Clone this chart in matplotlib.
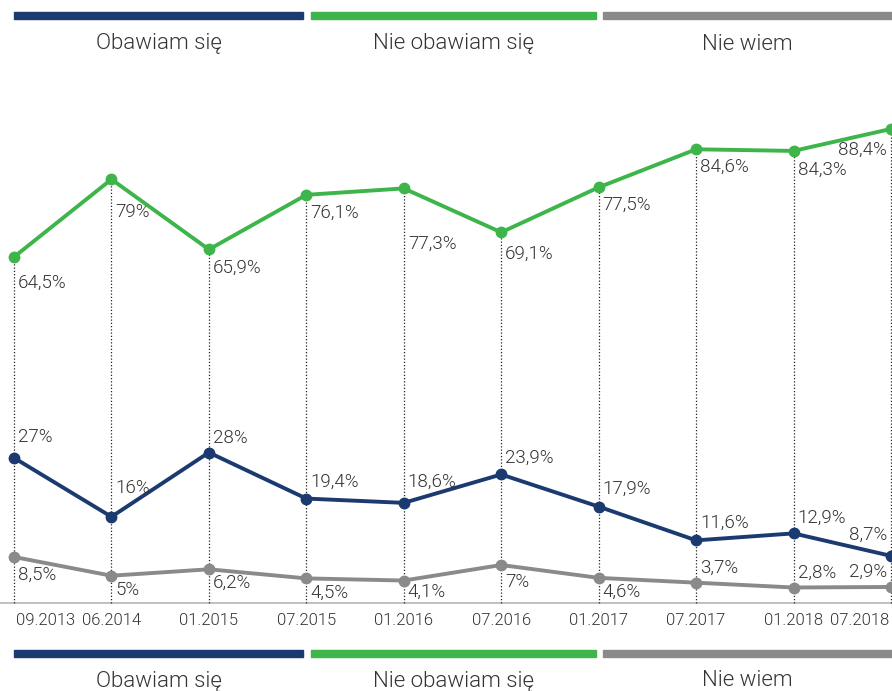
import matplotlib
matplotlib.use("Agg")
import matplotlib.pyplot as plt
from matplotlib.patches import Rectangle

plt.rcParams['font.family'] = ['Roboto', 'DejaVu Sans']
plt.rcParams['font.weight'] = 300

# Survey waves
periods = ["09.2013", "06.2014", "01.2015", "07.2015", "01.2016",
           "07.2016", "01.2017", "07.2017", "01.2018", "07.2018"]

# Share of answers (%)
obawiam = [27, 16, 28, 19.4, 18.6, 23.9, 17.9, 11.6, 12.9, 8.7]
nie_obawiam = [64.5, 79, 65.9, 76.1, 77.3, 69.1, 77.5, 84.6, 84.3, 88.4]
nie_wiem = [8.5, 5, 6.2, 4.5, 4.1, 7, 4.6, 3.7, 2.8, 2.9]

series_names = ["Obawiam się", "Nie obawiam się", "Nie wiem"]

BLUE = "#1b3a70"
GREEN = "#3db54a"
GRAY = "#8a8a8d"
TEXT = "#333333"

# Vertical label offsets in pixels (positive = below the point)
off_green = [26, 33, 18, 18, 55, 21, 17, 17, 19, 21]
off_blue = [-21, -29, -15, -17, -21, -17, -18, -18, -16, -21]
off_gray = [18, 14, 14, 14, 11, 17, 14, -15, -15, -15]

W, H = 892, 691
fig = plt.figure(figsize=(W / 100, H / 100), dpi=100)
ax = fig.add_axes([0, 0, 1, 1])
ax.set_axis_off()

n = len(periods)
x = list(range(n))
px_per_unit = 97.44
ax.set_xlim(-14 / px_per_unit, (n - 1) + 1 / px_per_unit)
py_per_val = 5.357
y0 = 602.5
ax.set_ylim((y0 - H) / py_per_val, y0 / py_per_val)


def fmt(v):
    s = ("%g" % v).replace(".", ",")
    return s + "%"


# baseline
ax.plot([-1, n], [0, 0], color="#b5b5b5", lw=1.2, zorder=1)

# dotted drop lines from the top series
for xi, v in zip(x, nie_obawiam):
    ax.plot([xi, xi], [0, v], color="#222222", lw=0.9, ls=(0, (1, 1.6)), zorder=1)

for vals, col, offs in [(nie_obawiam, GREEN, off_green),
                        (obawiam, BLUE, off_blue),
                        (nie_wiem, GRAY, off_gray)]:
    ax.plot(x, vals, color=col, lw=2.8, marker="o", ms=7.5, zorder=3,
            solid_capstyle="round", clip_on=False)
    for i, (xi, v, dy) in enumerate(zip(x, vals, offs)):
        last = i == n - 1
        ax.annotate(fmt(v), (xi, v), xytext=(-4 if last else 4, -dy),
                    textcoords="offset pixels", ha="right" if last else "left",
                    va="center", fontsize=13.5, color=TEXT, zorder=4)

# category labels
for i, (xi, lab) in enumerate(zip(x, periods)):
    ha = "left" if i == 0 else ("right" if i == n - 1 else "center")
    dx = 2 if i == 0 else (-2 if i == n - 1 else 0)
    ax.annotate(lab, (xi, 0), xytext=(dx, -18), textcoords="offset pixels",
                ha=ha, va="center", fontsize=12, color=TEXT)

# legend bands at top and bottom
segments = [(14, 303), (311, 596), (603, 892)]
colors = [BLUE, GREEN, GRAY]
for bar_top, text_y in [(12, 44), (650, 681)]:
    for (x1, x2), col, name in zip(segments, colors, series_names):
        fig.patches.append(Rectangle((x1 / W, 1 - (bar_top + 7) / H),
                                     (x2 - x1) / W, 7 / H,
                                     transform=fig.transFigure,
                                     color=col, zorder=5))
        fig.text((x1 + x2) / 2 / W, 1 - text_y / H, name, ha="center",
                 va="center", fontsize=16, color=TEXT)

fig.savefig("out.png", dpi=100)
